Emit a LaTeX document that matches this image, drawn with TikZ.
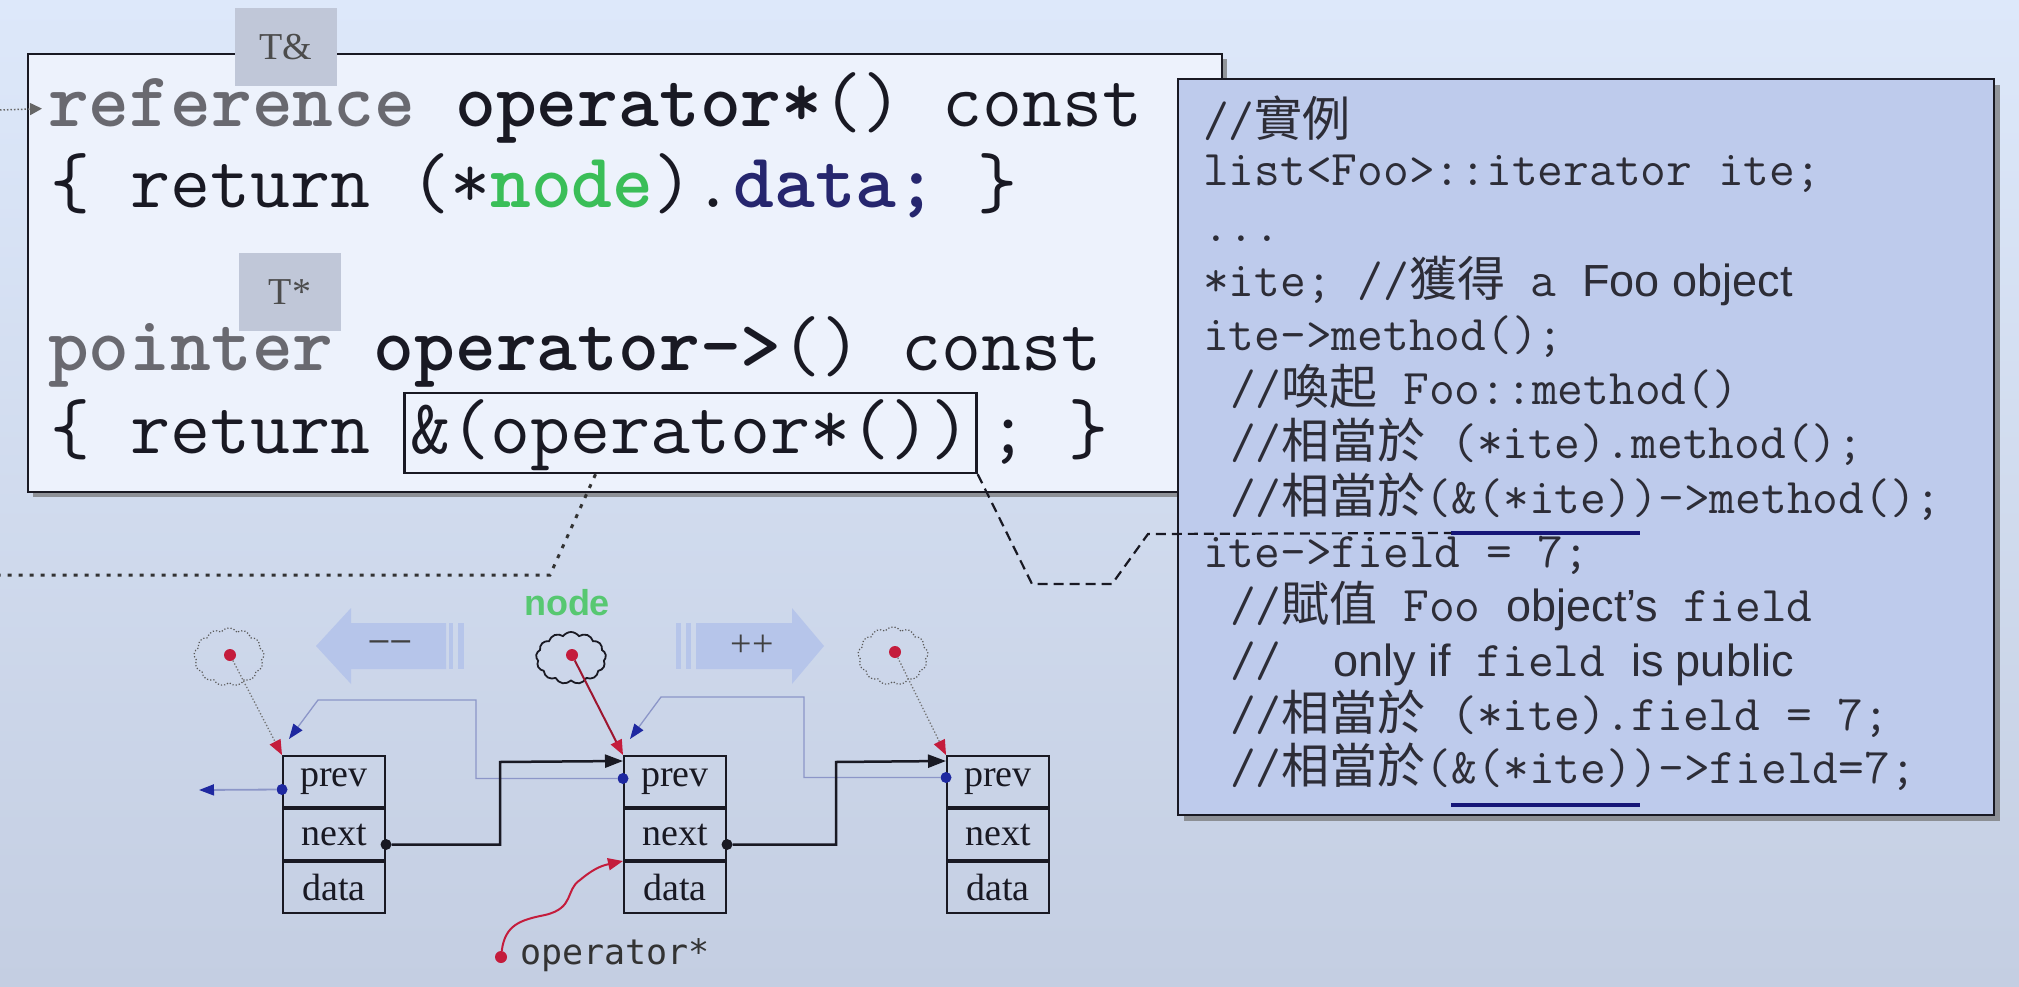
\documentclass[tikz,border=0pt]{standalone}
\usepackage{fontspec}
\usetikzlibrary{shapes.symbols,arrows.meta,decorations.pathmorphing,calc}
\newfontfamily\cjk{Noto Sans CJK TC}
\newfontfamily\sansf{Liberation Sans}
\newfontfamily\seriff{Liberation Serif}
\newfontfamily\dvmono{DejaVu Sans Mono}
\definecolor{bgtop}{RGB}{221,232,250}
\definecolor{bgbot}{RGB}{196,206,226}
\definecolor{boxfill}{RGB}{237,242,252}
\definecolor{panelfill}{RGB}{190,203,236}
\definecolor{tabfill}{RGB}{192,199,216}
\definecolor{greytxt}{RGB}{105,105,112}
\definecolor{nodegreen}{RGB}{58,190,88}
\definecolor{navy}{RGB}{38,38,110}
\definecolor{ulnavy}{RGB}{22,22,120}
\definecolor{dotred}{RGB}{196,28,60}
\definecolor{dotblue}{RGB}{30,40,160}
\definecolor{linkblue}{RGB}{140,150,200}
\definecolor{arrowfill}{RGB}{182,197,234}
\definecolor{inkc}{RGB}{25,25,35}
\definecolor{paneltxt}{RGB}{45,45,55}
\newcommand\mycode{\ttfamily\frenchspacing\fontsize{77.7}{80}\selectfont}
\newcommand\mypanel{\ttfamily\frenchspacing\fontsize{50}{54}\selectfont}
\newcommand\myzh[1]{{\cjk\fontsize{48}{54}\selectfont #1}}
\newcommand\mysa[1]{{\sansf\fontsize{45}{54}\selectfont #1}}
\begin{document}
\begin{tikzpicture}[x=1pt,y=-1pt,
  codeline/.style={anchor=base west, inner sep=0pt, font=\mycode, text=inkc},
  panelline/.style={anchor=base west, inner sep=0pt, font=\mypanel, text=paneltxt},
  cell/.style={draw=inkc, line width=2pt, minimum width=102pt, minimum height=51pt, inner sep=0pt, font=\seriff\fontsize{38}{40}\selectfont, text=inkc},
  ghostcloud/.style={cloud, cloud puffs=13, cloud puff arc=110, cloud ignores aspect, minimum width=70pt, minimum height=58pt, draw=black!65, dotted, line width=1.2pt, inner sep=0pt},
  solidcloud/.style={cloud, cloud puffs=13, cloud puff arc=110, cloud ignores aspect, minimum width=70pt, minimum height=52pt, draw=inkc, line width=1.8pt, inner sep=0pt},
  reddot/.style={circle, fill=dotred, inner sep=0pt, minimum size=12pt},
  bluedot/.style={circle, fill=dotblue, inner sep=0pt, minimum size=11pt},
  blackdot/.style={circle, fill=inkc, inner sep=0pt, minimum size=11pt},
  tabbox/.style={fill=tabfill, inner sep=0pt, minimum width=102pt, minimum height=78pt, font=\seriff\fontsize{38}{40}\selectfont, text=black!70},
  redtip/.style={-{Triangle[length=15pt,width=12pt,color=dotred]}},
  bluetip/.style={-{Triangle[length=15pt,width=11pt,color=dotblue]}},
  blacktip/.style={-{Triangle[length=18pt,width=13pt,color=inkc]}},
  dotline/.style={draw=black!80, line width=3pt, dash pattern=on 4pt off 7pt},
  dashline/.style={draw=inkc, line width=2.2pt, dash pattern=on 10pt off 6pt},
]
\useasboundingbox (0,0) rectangle (2019,987);
\shade[top color=bgtop, bottom color=bgbot] (0,0) rectangle (2019,987);

% top code box
\fill[black!55, opacity=.7] (33,59) rectangle (1227,497);
\draw[draw=inkc, line width=2.5pt, fill=boxfill] (28,54) rectangle (1222,492);
\node[tabbox] (tabA) at (286,47) {T\&};
\node[tabbox] (tabB) at (290,292) {T*};

\node[codeline] (l1) at (48,127) {\textbf{\color{greytxt}reference} \textbf{operator*}() const};
\node[codeline] (l2) at (50,208) {\{ return (*\textbf{\color{nodegreen}node}).\textbf{\color{navy}data;} \}};
\node[codeline] (l3) at (48,370) {\textbf{\color{greytxt}pointer} \textbf{operator->}() const};
\node[codeline] (l4a) at (50,453) {\{ return};
\node[codeline, draw=inkc, line width=2.5pt, inner xsep=6pt, inner ysep=6pt, text height=54pt, text depth=14pt] (opbox) at (403,453) {\&(operator*())};
\node[codeline] (l4c) at (988,453) {; \}};

\coordinate (la) at (0,110);
\draw[black!60, dotted, line width=1.5pt, shorten >=6pt, -{Triangle[length=12pt,width=12pt,color=black!60]}] (la) -- (l1.west);

% right panel
\fill[black!55, opacity=.7] (1184,85) rectangle (2000,821);
\draw[draw=inkc, line width=2.5pt, fill=panelfill] (1178,79) rectangle (1994,815);

\node[panelline] (p1) at (1203,137) {//\myzh{實例}};
\node[panelline] (p2) at (1203,186) {list<Foo>::iterator ite;};
\node[panelline] (p3) at (1203,241) {...};
\node[panelline] (p4) at (1203,296) {*ite; //\myzh{獲得} a \mysa{Foo object}};
\node[panelline] (p5) at (1203,350) {ite->method();};
\node[panelline] (p6) at (1230,404) {//\myzh{喚起} Foo::method()};
\node[panelline] (p7) at (1230,458) {//\myzh{相當於} (*ite).method();};
\node[panelline] (p8a) at (1230,513) {//\myzh{相當於}(\&};
\node[panelline] (p8b) at (p8a.base east) {(*ite)};
\node[panelline] (p8c) at (p8b.base east) {)->method();};
\node[panelline] (p9) at (1203,567) {ite->field = 7;};
\node[panelline] (p10) at (1230,621) {//\myzh{賦值} Foo \mysa{object’s} field};
\node[panelline] (p11) at (1230,676) {//\ \ \mysa{only if} field \mysa{is public}};
\node[panelline] (p12) at (1230,730) {//\myzh{相當於} (*ite).field = 7;};
\node[panelline] (p13a) at (1230,783) {//\myzh{相當於}(\&};
\node[panelline] (p13b) at (p13a.base east) {(*ite)};
\node[panelline] (p13c) at (p13b.base east) {)->field=7;};

\coordinate (u1) at ($(p8b.base west)+(-26,20)$);
\draw[ulnavy, line width=4pt] (u1) -- ($(p8b.base east)+(8,20)$);
\draw[ulnavy, line width=4pt] ($(p13b.base west)+(-26,22)$) -- ($(p13b.base east)+(8,22)$);

% connectors from the boxed expression
\draw[dashline] (opbox.south east) -- (1032,584) -- (1112,584) -- (1148,534) -- (u1);
\coordinate (dl) at (0,575);
\draw[dotline] ($(opbox.south west)!0.335!(opbox.south east)$) -- (550,575) -- (dl);

% big direction arrows
\fill[arrowfill] (316,646) -- (351,608) -- (351,623) -- (446,623) -- (446,669) -- (351,669) -- (351,684) -- cycle;
\fill[arrowfill] (449,623) rectangle (453,669);
\fill[arrowfill] (458,623) rectangle (464,669);
\node[font=\sansf\fontsize{34}{36}\selectfont, text=black!75] (mm) at (390,646) {–\kern3pt–};
\fill[arrowfill] (824,646) -- (792,608) -- (792,623) -- (696,623) -- (696,669) -- (792,669) -- (792,684) -- cycle;
\fill[arrowfill] (676,623) rectangle (681,669);
\fill[arrowfill] (686,623) rectangle (691,669);
\node[font=\seriff\fontsize{38}{40}\selectfont, text=black!75] (pp) at (752,646) {++};

\node[font=\sansf\bfseries\fontsize{36}{38}\selectfont, text=nodegreen!85!white] (nodelbl) at (567,603) {node};

% list nodes
\node[cell] (b1p) at (334,781.5) {prev};
\node[cell, anchor=north] (b1n) at (b1p.south) {next};
\node[cell, anchor=north] (b1d) at (b1n.south) {data};
\node[cell] (b2p) at (675,781.5) {prev};
\node[cell, anchor=north] (b2n) at (b2p.south) {next};
\node[cell, anchor=north] (b2d) at (b2n.south) {data};
\node[cell] (b3p) at (998,781.5) {prev};
\node[cell, anchor=north] (b3n) at (b3p.south) {next};
\node[cell, anchor=north] (b3d) at (b3n.south) {data};

% clouds
\node[ghostcloud] (c1) at (229,657) {};
\node[solidcloud] (c2) at (571,658) {};
\node[ghostcloud] (c3) at (893,656) {};
\node[reddot] (r1) at (230,655) {};
\node[reddot] (r2) at (572,655) {};
\node[reddot] (r3) at (895,652) {};

\draw[black!55, dotted, line width=1.3pt, redtip] (r1) -- (b1p.north west);
\draw[dotred!80!black, line width=2pt, redtip] (r2) -- (b2p.north west);
\draw[black!55, dotted, line width=1.3pt, redtip] (r3) -- (b3p.north west);

% prev links
\node[bluedot] (q1) at ($(b1p.west)+(0,8)$) {};
\node[bluedot] (q2) at ($(b2p.west)+(0,-3)$) {};
\node[bluedot] (q3) at ($(b3p.west)+(0,-4)$) {};
\coordinate (q1end) at (199,790);
\draw[linkblue, line width=1.8pt, bluetip] (q1) -- (q1end);
\draw[linkblue, line width=1.3pt, bluetip] (q2) -| (476,700) -- (318,700) -- ($(b1p.north west)+(7,-16)$);
\draw[linkblue, line width=1.3pt, bluetip] (q3) -| (804,697) -- (661,697) -- ($(b2p.north west)+(7,-16)$);

% next links
\node[blackdot] (k1) at ($(b1n.east)+(0,10)$) {};
\node[blackdot] (k2) at ($(b2n.east)+(0,10)$) {};
\draw[inkc, line width=2.5pt, blacktip] (k1) -| (500,762) -- ($(b2p.north west)+(0,6)$);
\draw[inkc, line width=2.5pt, blacktip] (k2) -| (836,762) -- ($(b3p.north west)+(0,6)$);

% operator* label
\node[reddot] (od) at (501,957) {};
\node[anchor=west, inner sep=0pt, font=\dvmono\fontsize{35}{38}\selectfont, text=black!80] (oplbl) at (520,955) {operator*};
\draw[dotred, line width=2pt, redtip] (od) .. controls (505,925) and (520,920) .. (545,915) .. controls (575,908) and (565,890) .. (580,880) .. controls (592,870) and (600,866) .. (b2d.north west);
\end{tikzpicture}
\end{document}
